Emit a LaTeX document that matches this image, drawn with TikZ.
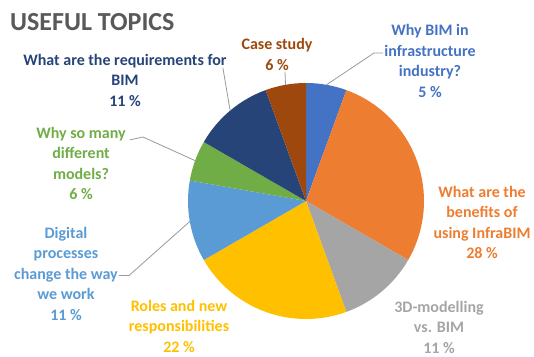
\documentclass[tikz,border=0pt]{standalone}
\usepackage{fontspec}
\setmainfont{Carlito}
\usepackage{xcolor}
\usepackage{tikz}
\definecolor{bimblue}{HTML}{4472C4}
\definecolor{benorange}{HTML}{ED7D31}
\definecolor{modgray}{HTML}{A5A5A5}
\definecolor{rolyellow}{HTML}{FFC000}
\definecolor{digblue}{HTML}{5B9BD5}
\definecolor{whygreen}{HTML}{70AD47}
\definecolor{reqblue}{HTML}{264478}
\definecolor{casebrown}{HTML}{9E480E}
\definecolor{titlegray}{HTML}{595959}
\tikzstyle{topic} = [font=\bfseries\fontsize{16}{20.5}\selectfont, align=center, inner sep=1pt]
\tikzstyle{leader} = [draw=black!40, line width=0.8pt]

\begin{document}
\begin{tikzpicture}[x=1pt, y=1pt]
\useasboundingbox (0,0) rectangle (534,356);
\coordinate (ctr) at (306,155);

% pie slices, clockwise from the top
\foreach \a/\b/\c in {90/70/bimblue, 70/-30/benorange, -30/-70/modgray, -70/-150/rolyellow,
  -150/-190/digblue, -190/-210/whygreen, -210/-250/reqblue, -250/-270/casebrown}
  \fill [\c] (ctr) -- ++(\a:118pt) arc [start angle=\a, end angle=\b, radius=118pt] -- cycle;

\path (ctr) ++(100:118pt) coordinate (caseedge);
\path (ctr) ++(80:118pt) coordinate (bimedge);
\path (ctr) ++(130:118pt) coordinate (reqedge);
\path (ctr) ++(160:118pt) coordinate (whyedge);
\path (ctr) ++(-170:118pt) coordinate (digedge);
\coordinate (bimbend) at (374,303);
\coordinate (whybend) at (143,219);

\node (title) [anchor=west, text=titlegray, font=\bfseries\fontsize{26}{30}\selectfont, inner sep=0pt] at (10,334) {USEFUL TOPICS};

\node (caselbl) [topic, text=casebrown] at (277,301.5) {Case study\\6 \%};
\node (bimlbl) [topic, text=bimblue] at (430,295) {Why BIM in\\infrastructure\\industry?\\5 \%};
\node (benlbl) [topic, text=benorange] at (482,133.5) {What are the\\benefits of\\using InfraBIM\\28 \%};
\node (modlbl) [topic, text=modgray] at (439,29) {3D-modelling\\vs. BIM\\11 \%};
\node (rollbl) [topic, text=rolyellow] at (179,30) {Roles and new\\responsibilities\\22 \%};
\node (diglbl) [topic, text=digblue] at (66,82.5) {Digital\\processes\\change the way\\we work\\11 \%};
\node (whylbl) [topic, text=whygreen] at (81,192.5) {Why so many\\different\\models?\\6 \%};
\node (reqlbl) [topic, text=reqblue] at (125,276) {What are the requirements for\\BIM\\11 \%};

% leader lines
\draw [leader] ([xshift=8pt]caselbl.south) -- (caseedge);
\draw [leader] (bimlbl.west |- bimbend) -- (bimbend) -- (bimedge);
\draw [leader] ([xshift=-5pt, yshift=-15pt]reqlbl.north east) -- (reqedge);
\draw [leader] ([xshift=3pt, yshift=-14pt]whylbl.north east) -- (whybend) -- (whyedge);
\draw [leader] ([yshift=-2pt]diglbl.east) -- ++(10pt,0) -- (digedge);
\end{tikzpicture}
\end{document}
